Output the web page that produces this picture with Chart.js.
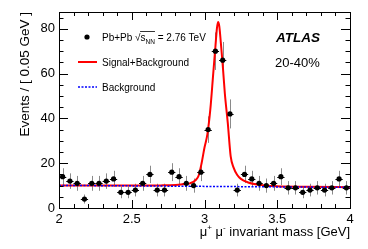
<!DOCTYPE html>
<html>
<head>
<meta charset="utf-8">
<script src="https://cdn.jsdelivr.net/npm/chart.js@4.4.0/dist/chart.umd.min.js"></script>
<style>
html, body { margin: 0; padding: 0; background: #fff; }
canvas { display: block; }
</style>
</head>
<body>
<canvas id="myChart" width="368" height="249"></canvas>
<script>
// bin centres in GeV (bins are 0.05 GeV wide)
const massBins = [2.025, 2.075, 2.125, 2.175, 2.225, 2.275, 2.325, 2.375, 2.425, 2.475,
                  2.525, 2.575, 2.625, 2.675, 2.725, 2.775, 2.825, 2.875, 2.925, 2.975,
                  3.025, 3.075, 3.125, 3.175, 3.225, 3.275, 3.325, 3.375, 3.425, 3.475,
                  3.525, 3.575, 3.625, 3.675, 3.725, 3.775, 3.825, 3.875, 3.925, 3.975];
const counts = [14, 12, 11, 4, 11, 11, 12, 13, 7, 7,
                8, 11, 15, 8, 8, 16, 14, 11, 10, 16,
                35, 70, 66, 42, 8, 15, 13, 11, 10, 11,
                14, 9, 9, 7, 8, 9, 8, 9, 13, 9];

// signal+background fit
const fitMass = [2.0, 2.5, 2.7, 2.8, 2.85, 2.9, 2.94, 2.96, 2.98, 3.0, 3.02, 3.04, 3.06, 3.075,
                 3.085, 3.093, 3.102, 3.112, 3.125, 3.14, 3.16, 3.18, 3.2, 3.225, 3.25, 3.3,
                 3.35, 3.4, 3.5, 3.7, 4.0];
const fitEvents = [10.1, 10.0, 10.1, 10.3, 10.6, 11, 12.5, 14.5, 20, 27, 33, 44, 60, 72,
                   80, 83, 81, 74, 64, 51, 38, 23, 18, 14.7, 13, 11.4,
                   10.6, 10.2, 9.7, 9.5, 9.3];

// background only
const bkgMass = [2.0, 4.0];
const bkgEvents = [10.1, 9.2];

const xTickLabels = ['2', '2.5', '3', '3.5', '4'];
const yTickLabels = ['0', '20', '40', '60', '80'];

const FONT = '"Liberation Sans", Arial, Helvetica, sans-serif';

// ROOT-like frame, inward ticks, error bars and text
const rootStyle = {
    id: 'rootStyle',
    beforeDatasetsDraw(chart) {
        const { ctx, scales: { x, y } } = chart;
        ctx.save();
        ctx.lineWidth = 1;
        massBins.forEach((m, i) => {
            const n = counts[i];
            const e = Math.sqrt(n);
            const px = Math.round(x.getPixelForValue(m)) + 0.5;
            const py = Math.round(y.getPixelForValue(n)) + 0.5;
            ctx.strokeStyle = '#8a8a8a';
            ctx.beginPath();
            ctx.moveTo(px, y.getPixelForValue(n + e));
            ctx.lineTo(px, y.getPixelForValue(Math.max(n - e, 0)));
            ctx.stroke();
            ctx.strokeStyle = '#000';
            ctx.beginPath();
            ctx.moveTo(x.getPixelForValue(m - 0.025), py);
            ctx.lineTo(x.getPixelForValue(m + 0.025), py);
            ctx.stroke();
        });
        ctx.restore();
    },
    afterDraw(chart) {
        const { ctx, chartArea: a, scales: { x, y } } = chart;
        ctx.save();
        ctx.strokeStyle = '#000';
        ctx.lineWidth = 1;
        ctx.strokeRect(a.left + 0.5, a.top + 0.5, a.right - a.left, a.bottom - a.top);

        ctx.beginPath();
        for (let v = 0; v <= 85; v += 5) {
            const py = Math.round(y.getPixelForValue(v)) + 0.5;
            const len = v % 20 === 0 ? 9 : 4.5;
            ctx.moveTo(a.left, py); ctx.lineTo(a.left + len, py);
            ctx.moveTo(a.right, py); ctx.lineTo(a.right - len, py);
        }
        for (let k = 0; k <= 20; k++) {
            const px = Math.round(x.getPixelForValue(2 + k * 0.1)) + 0.5;
            const len = k % 5 === 0 ? 8 : 4;
            ctx.moveTo(px, a.bottom); ctx.lineTo(px, a.bottom - len);
            ctx.moveTo(px, a.top); ctx.lineTo(px, a.top + len);
        }
        ctx.stroke();

        ctx.fillStyle = '#000';
        // y title, right-aligned at top of axis
        ctx.save();
        ctx.translate(29, a.top);
        ctx.rotate(-Math.PI / 2);
        ctx.font = '13.5px ' + FONT;
        ctx.textAlign = 'right';
        ctx.textBaseline = 'alphabetic';
        ctx.fillText('Events / [ 0.05 GeV ]', 0, 0);
        ctx.restore();

        // x title, right-aligned at end of axis
        ctx.font = '13px ' + FONT;
        ctx.textBaseline = 'alphabetic';
        const rest = ' invariant mass [GeV]';
        let tx = a.right - ctx.measureText(rest).width;
        ctx.fillText(rest, tx, 236);
        ctx.font = '8px ' + FONT;
        tx -= ctx.measureText('-').width;
        ctx.fillText('-', tx, 230);
        ctx.font = '13px ' + FONT;
        tx -= ctx.measureText('\u03bc').width;
        ctx.fillText('\u03bc', tx, 236);
        tx -= ctx.measureText(' ').width;
        ctx.font = '8px ' + FONT;
        tx -= ctx.measureText('+').width;
        ctx.fillText('+', tx, 230);
        ctx.font = '13px ' + FONT;
        tx -= ctx.measureText('\u03bc').width;
        ctx.fillText('\u03bc', tx, 236);

        // ATLAS label
        ctx.font = 'italic bold 13.5px ' + FONT;
        ctx.fillText('ATLAS', 276, 42);
        ctx.font = '13px ' + FONT;
        ctx.fillText('20-40%', 275, 67);

        // legend
        ctx.beginPath();
        ctx.arc(87, 37, 2.6, 0, Math.PI * 2);
        ctx.fill();
        ctx.font = '10px ' + FONT;
        let lx = 102;
        ctx.fillText('Pb+Pb ', lx, 41);
        lx += ctx.measureText('Pb+Pb ').width;
        ctx.fillText('\u221a', lx, 41);
        lx += ctx.measureText('\u221a').width;
        const rootStart = lx;
        ctx.fillText('s', lx, 41);
        lx += ctx.measureText('s').width;
        ctx.font = '6.5px ' + FONT;
        ctx.fillText('NN', lx, 43.5);
        lx += ctx.measureText('NN').width;
        ctx.lineWidth = 0.8;
        ctx.beginPath();
        ctx.moveTo(rootStart - 0.5, 31.5);
        ctx.lineTo(lx, 31.5);
        ctx.stroke();
        ctx.font = '10px ' + FONT;
        ctx.fillText(' = 2.76 TeV', lx, 41);

        ctx.lineWidth = 2;
        ctx.strokeStyle = '#ff0000';
        ctx.beginPath();
        ctx.moveTo(78, 62); ctx.lineTo(97, 62);
        ctx.stroke();
        ctx.fillText('Signal+Background', 102, 66);

        ctx.lineWidth = 1.5;
        ctx.strokeStyle = '#0000ff';
        ctx.setLineDash([2, 1.5]);
        ctx.beginPath();
        ctx.moveTo(78, 87); ctx.lineTo(97, 87);
        ctx.stroke();
        ctx.setLineDash([]);
        ctx.fillText('Background', 102, 91);
        ctx.restore();
    }
};

const ctx = document.getElementById('myChart').getContext('2d');
const chart = new Chart(ctx, {
    type: 'scatter',
    data: {
        datasets: [{
            label: 'Pb+Pb',
            data: massBins.map((m, i) => ({ x: m, y: counts[i] })),
            pointRadius: 2.6,
            pointBackgroundColor: '#000',
            pointBorderWidth: 0,
            showLine: false
        }, {
            type: 'line',
            label: 'Background',
            data: bkgMass.map((m, i) => ({ x: m, y: bkgEvents[i] })),
            borderColor: '#0000ff',
            borderWidth: 1.5,
            borderDash: [2, 1.5],
            pointRadius: 0,
            fill: false
        }, {
            type: 'line',
            label: 'Signal+Background',
            data: fitMass.map((m, i) => ({ x: m, y: fitEvents[i] })),
            borderColor: '#ff0000',
            borderWidth: 2,
            pointRadius: 0,
            cubicInterpolationMode: 'monotone',
            fill: false
        }]
    },
    options: {
        responsive: false,
        animation: false,
        devicePixelRatio: 1,
        layout: { padding: { top: 12, right: 18, left: 0, bottom: 0 } },
        plugins: { legend: { display: false }, tooltip: { enabled: false } },
        scales: {
            x: {
                type: 'linear',
                min: 2,
                max: 4,
                grid: { display: false, drawTicks: false },
                border: { display: false },
                afterFit: s => { s.height = 41; },
                afterBuildTicks: s => { s.ticks = xTickLabels.map(t => ({ value: parseFloat(t) })); },
                ticks: {
                    padding: 4,
                    color: '#000',
                    autoSkip: false,
                    maxRotation: 0,
                    font: { family: FONT, size: 13 },
                    callback: (v, i) => xTickLabels[i]
                }
            },
            y: {
                min: 0,
                max: 87.5,
                grid: { display: false, drawTicks: false },
                border: { display: false },
                afterFit: s => { s.width = 59; },
                afterBuildTicks: s => { s.ticks = yTickLabels.map(t => ({ value: parseFloat(t) })); },
                ticks: {
                    padding: 4,
                    color: '#000',
                    autoSkip: false,
                    font: { family: FONT, size: 13 },
                    callback: (v, i) => yTickLabels[i]
                }
            }
        }
    },
    plugins: [rootStyle]
});
</script>
</body>
</html>
